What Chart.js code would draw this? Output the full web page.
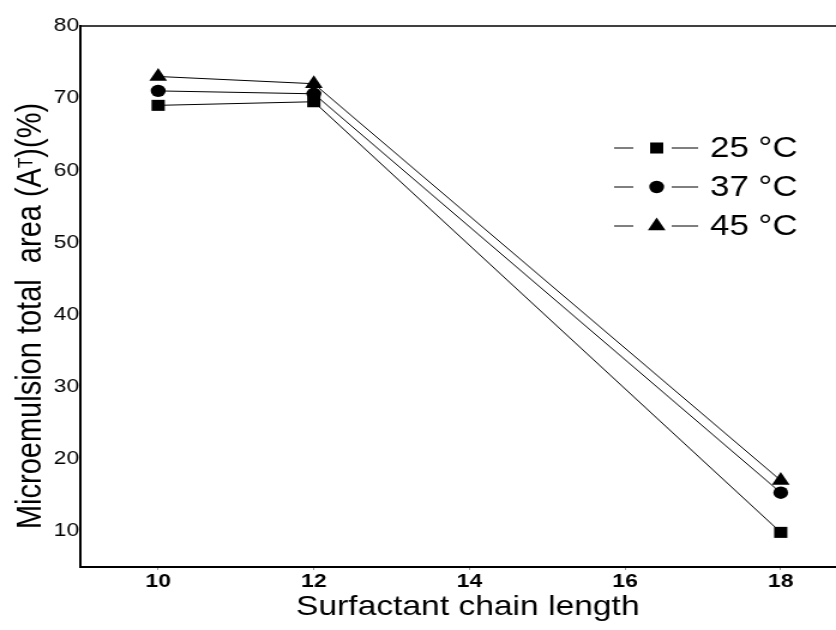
<!DOCTYPE html>
<html>
<head>
<meta charset="utf-8">
<script src="https://cdn.jsdelivr.net/npm/chart.js@4/dist/chart.umd.min.js"></script>
<style>
    body { margin: 0; background: #fff; }
    #chart { transform: scaleX(1.1994); transform-origin: 0 0; }
</style>
</head>
<body>
<canvas id="chart" width="697" height="630"></canvas>
<script>
// chain lengths and measured total areas (%)
const chainLengths = [10, 12, 18];
const area25 = [69, 69.5, 9.8];
const area37 = [71, 70.6, 15.3];
const area45 = [73, 72, 17];

const seriesLabels = ['25 °C', '37 °C', '45 °C'];
const xTicks = [10, 12, 14, 16, 18];
const yTicks = [10, 20, 30, 40, 50, 60, 70, 80];

const FONT = '"Liberation Sans", Arial, sans-serif';

function toPoints(values) {
    return chainLengths.map((x, i) => ({ x: x, y: values[i] }));
}

function makeDataset(label, values, style, radius) {
    return {
        label: label,
        data: toPoints(values),
        borderColor: '#000',
        backgroundColor: '#000',
        borderWidth: 1,
        pointStyle: style,
        pointRadius: radius,
        pointHoverRadius: radius,
        pointBorderWidth: 0,
        tension: 0
    };
}

// top frame line
const frameTop = {
    id: 'frameTop',
    afterDraw(chart) {
        const { ctx, chartArea } = chart;
        ctx.save();
        ctx.strokeStyle = '#000';
        ctx.lineWidth = 1.5;
        ctx.beginPath();
        ctx.moveTo(chartArea.left, chartArea.top);
        ctx.lineTo(chart.width, chartArea.top);
        ctx.stroke();
        ctx.restore();
    }
};

// axis titles, the y one has a small raised T
const axisTitles = {
    id: 'axisTitles',
    afterDraw(chart) {
        const { ctx, chartArea } = chart;
        ctx.save();
        ctx.fillStyle = '#000';

        ctx.font = `28px ${FONT}`;
        ctx.textAlign = 'center';
        ctx.textBaseline = 'middle';
        ctx.fillText('Surfactant chain length', chartArea.left + 323, chartArea.bottom + 40);

        const pre = 'Microemulsion total  area (A';
        const sub = 'T';
        const post = ')(%)';
        const mainFont = `29px ${FONT}`;
        const subFont = `17px ${FONT}`;
        ctx.font = mainFont;
        const wPre = ctx.measureText(pre).width;
        const wPost = ctx.measureText(post).width;
        ctx.font = subFont;
        const wSub = ctx.measureText(sub).width;
        const total = wPre + wSub + wPost;

        ctx.translate(34, 316);
        ctx.rotate(-Math.PI / 2);
        ctx.textAlign = 'left';
        ctx.textBaseline = 'alphabetic';
        let x = -total / 2;
        ctx.font = mainFont;
        ctx.fillText(pre, x, 0);
        x += wPre;
        ctx.font = subFont;
        ctx.fillText(sub, x, -7.5);
        x += wSub;
        ctx.font = mainFont;
        ctx.fillText(post, x, 0);
        ctx.restore();
    }
};

// legend: line - marker - line, then label
const markerLegend = {
    id: 'markerLegend',
    afterDraw(chart) {
        const { ctx } = chart;
        const rows = [148, 187, 226];
        ctx.save();
        chart.data.datasets.forEach((ds, i) => {
            const y = rows[i];
            ctx.strokeStyle = '#000';
            ctx.lineWidth = 1;
            ctx.beginPath();
            ctx.moveTo(512, y);
            ctx.lineTo(528, y);
            ctx.moveTo(560, y);
            ctx.lineTo(582, y);
            ctx.stroke();
            ctx.fillStyle = '#000';
            Chart.helpers.drawPoint(ctx, {
                pointStyle: ds.pointStyle,
                radius: ds.pointRadius,
                rotation: 0,
                borderWidth: 0
            }, 547.5, y);
            ctx.fillStyle = '#000';
            ctx.font = `29px ${FONT}`;
            ctx.textAlign = 'left';
            ctx.textBaseline = 'middle';
            ctx.fillText(ds.label, 592, y + 1);
        });
        ctx.restore();
    }
};

const ctx = document.getElementById('chart').getContext('2d');
new Chart(ctx, {
    type: 'line',
    data: {
        datasets: [
            makeDataset(seriesLabels[0], area25, 'rect', 7.8),
            makeDataset(seriesLabels[1], area37, 'circle', 6.2),
            makeDataset(seriesLabels[2], area45, 'triangle', 8.5)
        ]
    },
    options: {
        responsive: false,
        animation: false,
        devicePixelRatio: 1,
        layout: { autoPadding: false, padding: { top: 26, right: 0, left: 0, bottom: 0 } },
        plugins: {
            legend: { display: false },
            tooltip: { enabled: false }
        },
        scales: {
            x: {
                type: 'linear',
                min: 9,
                max: 18.71,
                afterBuildTicks: (s) => { s.ticks = xTicks.map(v => ({ value: v })); },
                afterFit: (s) => { s.height = 63; s.paddingLeft = 0; s.paddingRight = 0; },
                grid: { drawOnChartArea: false, drawTicks: true, tickLength: 3, color: '#999' },
                border: { display: true, color: '#000', width: 2 },
                ticks: {
                    color: '#000',
                    padding: 0,
                    maxRotation: 0,
                    font: { family: FONT, size: 19, weight: 'bold' }
                }
            },
            y: {
                type: 'linear',
                min: 5,
                max: 80,
                afterBuildTicks: (s) => { s.ticks = yTicks.map(v => ({ value: v })); },
                afterFit: (s) => { s.width = 67; s.paddingTop = 0; s.paddingBottom = 0; },
                grid: { display: false, drawTicks: false },
                border: { display: true, color: '#000', width: 2 },
                ticks: {
                    color: '#000',
                    padding: 1,
                    font: { family: FONT, size: 19 }
                }
            }
        }
    },
    plugins: [frameTop, axisTitles, markerLegend]
});
</script>
</body>
</html>
